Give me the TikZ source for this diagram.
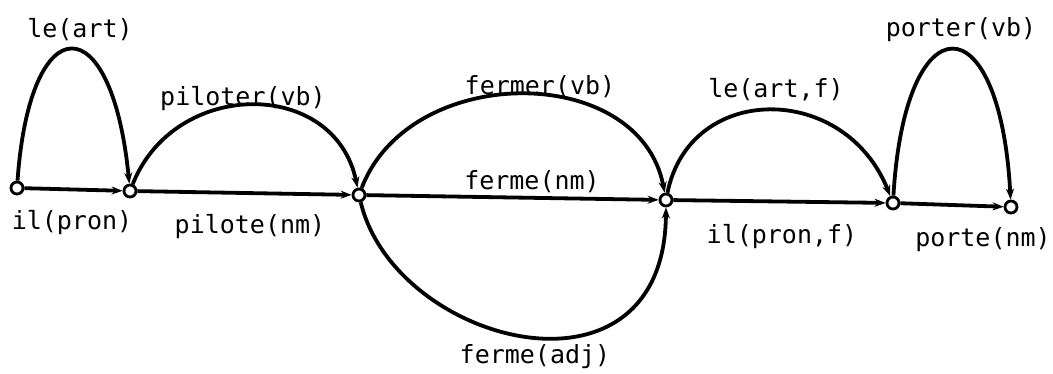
\documentclass[tikz,border=0pt]{standalone}
\usepackage{fontspec}
\newfontfamily\lblfont{DejaVu Sans Mono}
\usetikzlibrary{arrows.meta}
\begin{document}
\begin{tikzpicture}[x=1pt,y=-1pt,
  state/.style={circle, draw, fill=white, line width=2.8pt, minimum size=12pt, inner sep=0pt},
  edge/.style={line width=3.8pt, -{Stealth[length=11pt,width=8pt]}},
  lbl/.style={font=\lblfont\fontsize{25}{30}\selectfont, inner sep=0pt}]
\useasboundingbox (0,0) rectangle (1053,374);
% states
\node[state] (n0) at (17,188) {};
\node[state] (n1) at (130,191) {};
\node[state] (n2) at (359,195) {};
\node[state] (n3) at (666,200) {};
\node[state] (n4) at (893,203) {};
\node[state] (n5) at (1011,207) {};
% straight transitions
\draw[edge] (n0) -- (n1);
\draw[edge] (n1) -- (n2);
\draw[edge] (n2) -- (n3);
\draw[edge] (n3) -- (n4);
\draw[edge] (n4) -- (n5);
% arcs
\draw[edge] (n0) .. controls (30,5) and (112,5) .. (n1);
\draw[edge] (n1) .. controls (175,78) and (335,78) .. (n2);
\draw[edge] (n2) .. controls (410,62) and (640,62) .. (n3);
\draw[edge] (n2) .. controls (395,345) and (665,415) .. (n3);
\draw[edge] (n3) .. controls (690,82) and (845,82) .. (n4);
\draw[edge] (n4) .. controls (905,0) and (1000,0) .. (n5);
% labels
\node[lbl] (t1) at (80,30) {le(art)};
\node[lbl] (t2) at (243,99) {piloter(vb)};
\node[lbl] (t3) at (540,87) {fermer(vb)};
\node[lbl] (t4) at (532,182) {ferme(nm)};
\node[lbl] (t5) at (776,90) {le(art,f)};
\node[lbl] (t6) at (961,30) {porter(vb)};
\node[lbl] (t7) at (72,223) {il(pron)};
\node[lbl] (t8) at (250,227) {pilote(nm)};
\node[lbl] (t9) at (782,237) {il(pron,f)};
\node[lbl] (t10) at (983,240) {porte(nm)};
\node[lbl] (t11) at (535,357) {ferme(adj)};
\end{tikzpicture}
\end{document}
